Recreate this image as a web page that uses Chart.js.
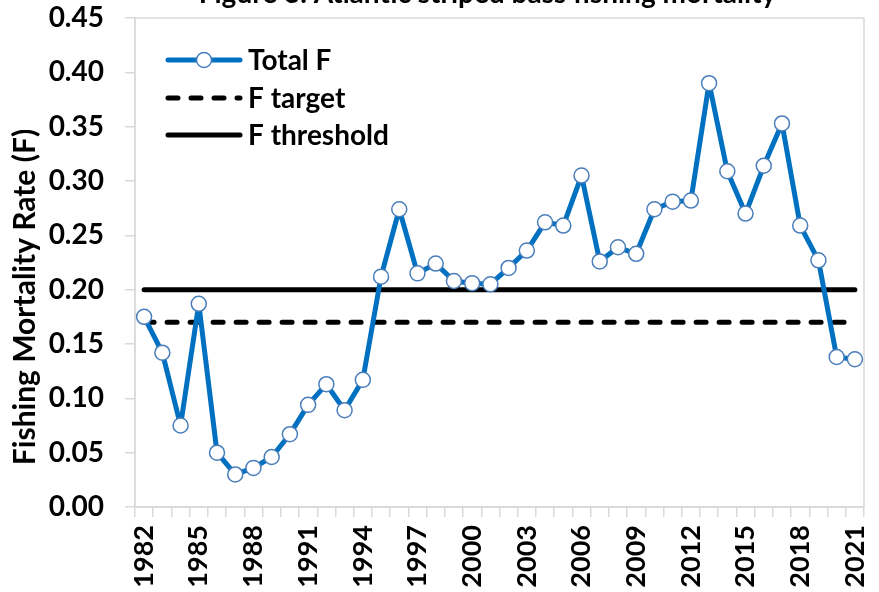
<!DOCTYPE html>
<html>
<head>
<meta charset="utf-8">
<script src="https://cdn.jsdelivr.net/npm/chart.js@4/dist/chart.umd.min.js"></script>
<style>
html, body { margin: 0; padding: 0; background: #ffffff; }
#wrap { width: 879px; height: 592px; position: relative; overflow: hidden; }
canvas { display: block; }
</style>
</head>
<body>
<div id="wrap"><canvas id="c" width="879" height="592"></canvas></div>
<script>
// ---- data ----
const years = ['1982','1983','1984','1985','1986','1987','1988','1989','1990','1991',
               '1992','1993','1994','1995','1996','1997','1998','1999','2000','2001',
               '2002','2003','2004','2005','2006','2007','2008','2009','2010','2011',
               '2012','2013','2014','2015','2016','2017','2018','2019','2020','2021'];
const totalF = [0.175,0.142,0.075,0.187,0.050,0.030,0.036,0.046,0.067,0.094,
                0.113,0.089,0.117,0.212,0.274,0.215,0.224,0.208,0.206,0.205,
                0.220,0.236,0.262,0.259,0.305,0.226,0.239,0.233,0.274,0.281,
                0.282,0.390,0.309,0.270,0.314,0.353,0.259,0.227,0.138,0.136];
const fTarget = [0.17,0.17,0.17,0.17,0.17,0.17,0.17,0.17,0.17,0.17,
                 0.17,0.17,0.17,0.17,0.17,0.17,0.17,0.17,0.17,0.17,
                 0.17,0.17,0.17,0.17,0.17,0.17,0.17,0.17,0.17,0.17,
                 0.17,0.17,0.17,0.17,0.17,0.17,0.17,0.17,0.17,0.17];
const fThreshold = [0.20,0.20,0.20,0.20,0.20,0.20,0.20,0.20,0.20,0.20,
                    0.20,0.20,0.20,0.20,0.20,0.20,0.20,0.20,0.20,0.20,
                    0.20,0.20,0.20,0.20,0.20,0.20,0.20,0.20,0.20,0.20,
                    0.20,0.20,0.20,0.20,0.20,0.20,0.20,0.20,0.20,0.20];
const xTickLabels = ['1982','1985','1988','1991','1994','1997','2000','2003','2006','2009','2012','2015','2018','2021'];
const seriesNames = ['Total F', 'F target', 'F threshold'];
const chartTitle = 'Figure 3. Atlantic striped bass fishing mortality';
const yAxisTitle = 'Fishing Mortality Rate (F)';

// ---- styling ----
const FAM = 'Lato';
const AXIS_GRAY = '#d9d9d9';
const BLUE = '#0070C0';
const MARKER_BLUE = '#4a7ebb';

const decor = {
  id: 'decor',
  beforeDatasetsDraw(chart) {
    const { ctx, chartArea: a } = chart;
    ctx.save();
    ctx.strokeStyle = AXIS_GRAY;
    ctx.lineWidth = 1.5;
    ctx.strokeRect(a.left, a.top, a.right - a.left, a.bottom - a.top);
    ctx.restore();
  },
  afterDraw(chart) {
    const { ctx, chartArea: a } = chart;
    ctx.save();
    // title (mostly cropped above the top edge, as in the reference)
    ctx.fillStyle = '#000';
    ctx.font = 'bold 28px ' + FAM;
    ctx.textAlign = 'center';
    ctx.textBaseline = 'alphabetic';
    ctx.fillText(chartTitle, (a.left + a.right) / 2 - 12, 3);

    // y-axis title (placed lower than centre, as in the reference)
    ctx.save();
    ctx.translate(25, 297);
    ctx.rotate(-Math.PI / 2);
    ctx.font = 'bold 30px ' + FAM;
    ctx.textAlign = 'center';
    ctx.textBaseline = 'middle';
    ctx.fillText(yAxisTitle, 0, 0);
    ctx.restore();

    // legend inside plot area, upper left
    const rowsY = [60, 98, 135];
    const x0 = 168, x1 = 240, textX = 248;
    chart.data.datasets.forEach((ds, i) => {
      const y = rowsY[i];
      ctx.save();
      ctx.strokeStyle = ds.borderColor;
      ctx.lineWidth = ds.borderWidth;
      ctx.lineCap = ds.borderCapStyle || 'round';
      ctx.setLineDash(ds.borderDash || []);
      ctx.beginPath();
      ctx.moveTo(x0, y);
      ctx.lineTo(x1, y);
      ctx.stroke();
      ctx.setLineDash([]);
      if (ds.pointRadius > 0) {
        ctx.beginPath();
        ctx.arc((x0 + x1) / 2, y, ds.pointRadius, 0, Math.PI * 2);
        ctx.fillStyle = ds.pointBackgroundColor;
        ctx.fill();
        ctx.lineWidth = ds.pointBorderWidth;
        ctx.strokeStyle = ds.pointBorderColor;
        ctx.stroke();
      }
      ctx.restore();
      ctx.fillStyle = '#000';
      ctx.font = 'bold 28px ' + FAM;
      ctx.textAlign = 'left';
      ctx.textBaseline = 'middle';
      ctx.fillText(ds.label, textX, y + 1);
    });
    ctx.restore();
  }
};

new Chart(document.getElementById('c'), {
  type: 'line',
  data: {
    labels: years,
    datasets: [
      {
        label: seriesNames[0],
        data: totalF,
        borderColor: BLUE,
        borderWidth: 5,
        borderCapStyle: 'round',
        borderJoinStyle: 'round',
        pointRadius: 7.5,
        pointHoverRadius: 7.5,
        pointBackgroundColor: '#ffffff',
        pointBorderColor: MARKER_BLUE,
        pointBorderWidth: 1.5,
        tension: 0,
        fill: false
      },
      {
        label: seriesNames[1],
        data: fTarget,
        borderColor: '#000000',
        borderWidth: 5,
        borderDash: [10, 13],
        borderCapStyle: 'round',
        pointRadius: 0,
        pointHoverRadius: 0,
        tension: 0,
        fill: false
      },
      {
        label: seriesNames[2],
        data: fThreshold,
        borderColor: '#000000',
        borderWidth: 5,
        borderCapStyle: 'round',
        pointRadius: 0,
        pointHoverRadius: 0,
        tension: 0,
        fill: false
      }
    ]
  },
  options: {
    responsive: false,
    animation: false,
    events: [],
    layout: { padding: { top: 18, right: 15, left: 0, bottom: 0 } },
    plugins: {
      legend: { display: false },
      title: { display: false },
      tooltip: { enabled: false }
    },
    scales: {
      x: {
        type: 'category',
        offset: true,
        grid: { offset: true, drawOnChartArea: false, color: AXIS_GRAY, lineWidth: 1.5, tickLength: 10 },
        border: { color: AXIS_GRAY, width: 1.5 },
        ticks: {
          autoSkip: false,
          maxRotation: 90,
          minRotation: 90,
          padding: 8,
          color: '#000',
          font: { family: FAM, weight: 'bold', size: 27 },
          callback(value) {
            const lab = this.getLabelForValue(value);
            return xTickLabels.includes(lab) ? lab : '';
          }
        },
        afterFit(s) { s.height = 85; s.paddingLeft = 0; s.paddingRight = 0; }
      },
      y: {
        min: 0,
        max: 0.45,
        grid: { drawOnChartArea: false, color: AXIS_GRAY, lineWidth: 1.5, tickLength: 10 },
        border: { color: AXIS_GRAY, width: 1.5 },
        ticks: {
          stepSize: 0.05,
          padding: 21,
          color: '#000',
          font: { family: FAM, weight: 'bold', size: 28 },
          callback: (v) => Number(v).toFixed(2)
        },
        title: { display: false },
        afterFit(s) { s.width = 135; s.paddingTop = 0; s.paddingBottom = 0; }
      }
    }
  },
  plugins: [decor]
});
</script>
</body>
</html>
